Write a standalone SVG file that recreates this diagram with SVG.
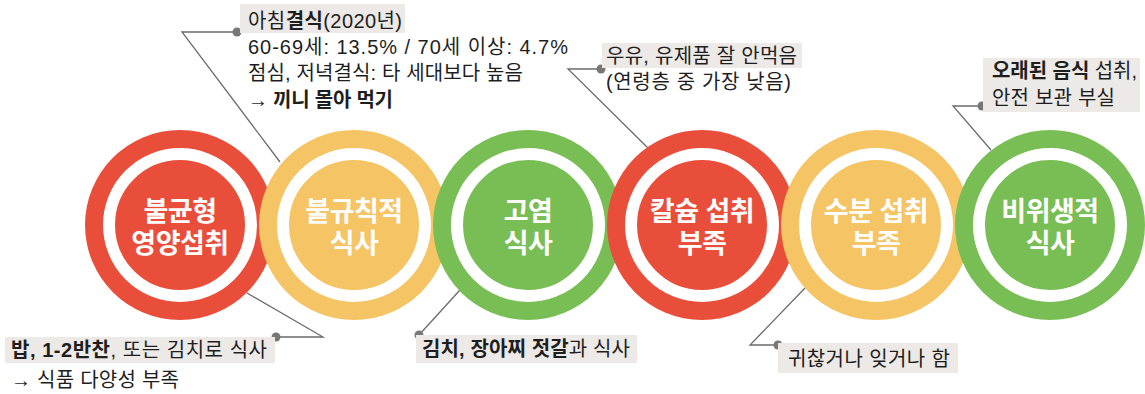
<svg xmlns="http://www.w3.org/2000/svg" width="1145" height="394" viewBox="0 0 1145 394">
<style>
.t{font-family:"Liberation Sans","Noto Sans CJK KR",sans-serif;font-size:20px;fill:#1e1e1e}
.b{font-weight:700}
.ct{font-family:"Liberation Sans","Noto Sans CJK KR",sans-serif;font-size:27px;font-weight:700;fill:#fff;text-anchor:middle;letter-spacing:-0.5px}
.hl{fill:#ECE9E6}
.ln{fill:none;stroke:#6b6b6b;stroke-width:1.3}
.dot{fill:#777}
.ring{fill:none;stroke:#fff;stroke-width:12}
.red{fill:#E94E3A}
.yel{fill:#F5C464}
.grn{fill:#78BE55}
</style>
<rect width="1145" height="394" fill="#fff"/>
<g id="connectors">
<polyline class="ln" points="237,32 182,32 280,162"/>
<polyline class="ln" points="276,337 323,337 247,293"/>
<polyline class="ln" points="419,335 460,290"/>
<polyline class="ln" points="601,69 568,69 649,149"/>
<polyline class="ln" points="778,345 750,345 805,288"/>
<polyline class="ln" points="982,106 953,106 991,150"/>
<circle class="dot" cx="237" cy="32" r="4.5"/>
<circle class="dot" cx="276" cy="337" r="4.5"/>
<circle class="dot" cx="419" cy="335" r="4.5"/>
<circle class="dot" cx="601" cy="69" r="4.5"/>
<circle class="dot" cx="778" cy="345" r="4.5"/>
<circle class="dot" cx="982" cy="106" r="4.5"/>
</g>
<g id="node-unbalanced">
<circle class="red" cx="180" cy="225" r="95"/>
<circle class="ring" cx="180" cy="225" r="71"/>
<text class="ct"><tspan x="180" y="221">불균형</tspan><tspan x="180" y="253">영양섭취</tspan></text>
</g>
<g id="node-irregular">
<circle class="yel" cx="354" cy="225" r="95"/>
<circle class="ring" cx="354" cy="225" r="71"/>
<text class="ct"><tspan x="354" y="221">불규칙적</tspan><tspan x="354" y="253">식사</tspan></text>
</g>
<g id="node-salty">
<circle class="grn" cx="528" cy="225" r="95"/>
<circle class="ring" cx="528" cy="225" r="71"/>
<text class="ct"><tspan x="528" y="221">고염</tspan><tspan x="528" y="253">식사</tspan></text>
</g>
<g id="node-calcium">
<circle class="red" cx="702" cy="225" r="95"/>
<circle class="ring" cx="702" cy="225" r="71"/>
<text class="ct"><tspan x="702" y="221">칼슘 섭취</tspan><tspan x="702" y="253">부족</tspan></text>
</g>
<g id="node-water">
<circle class="yel" cx="876" cy="225" r="95"/>
<circle class="ring" cx="876" cy="225" r="71"/>
<text class="ct"><tspan x="876" y="221">수분 섭취</tspan><tspan x="876" y="253">부족</tspan></text>
</g>
<g id="node-unhygienic">
<circle class="grn" cx="1050" cy="225" r="95"/>
<circle class="ring" cx="1050" cy="225" r="71"/>
<text class="ct"><tspan x="1050" y="221">비위생적</tspan><tspan x="1050" y="253">식사</tspan></text>
</g>
<g id="note-breakfast">
<rect class="hl" x="240" y="4" width="165" height="29"/>
<text class="t" x="248" y="28" textLength="154">아침<tspan class="b">결식</tspan>(2020년)</text>
<text class="t" x="248" y="54" textLength="320">60-69세: 13.5% / 70세 이상: 4.7%</text>
<text class="t" x="248" y="80" textLength="275">점심, 저녁결식: 타 세대보다 높음</text>
<text class="t b" x="248" y="107" textLength="145">→ 끼니 몰아 먹기</text>
</g>
<g id="note-rice">
<rect class="hl" x="5" y="337" width="270" height="26"/>
<text class="t" x="11" y="357" textLength="256"><tspan class="b">밥, 1-2반찬</tspan>, 또는 김치로 식사</text>
<text class="t" x="11" y="387" textLength="168">→ 식품 다양성 부족</text>
</g>
<g id="note-kimchi">
<rect class="hl" x="416" y="335" width="221" height="28"/>
<text class="t" x="422" y="356" textLength="208"><tspan class="b">김치, 장아찌 젓갈</tspan>과 식사</text>
</g>
<g id="note-milk">
<rect class="hl" x="602" y="43" width="200" height="25"/>
<text class="t" x="606" y="63" textLength="191">우유, 유제품 잘 안먹음</text>
<text class="t" x="606" y="89" textLength="185">(연령층 중 가장 낮음)</text>
</g>
<g id="note-forget">
<rect class="hl" x="778" y="343" width="180" height="30"/>
<text class="t" x="788" y="366" textLength="162">귀찮거나 잊거나 함</text>
</g>
<g id="note-old-food">
<rect class="hl" x="983" y="58" width="157" height="54"/>
<text class="t" x="992" y="78" textLength="145"><tspan class="b">오래된 음식</tspan> 섭취,</text>
<text class="t" x="992" y="105" textLength="123">안전 보관 부실</text>
</g>
</svg>
